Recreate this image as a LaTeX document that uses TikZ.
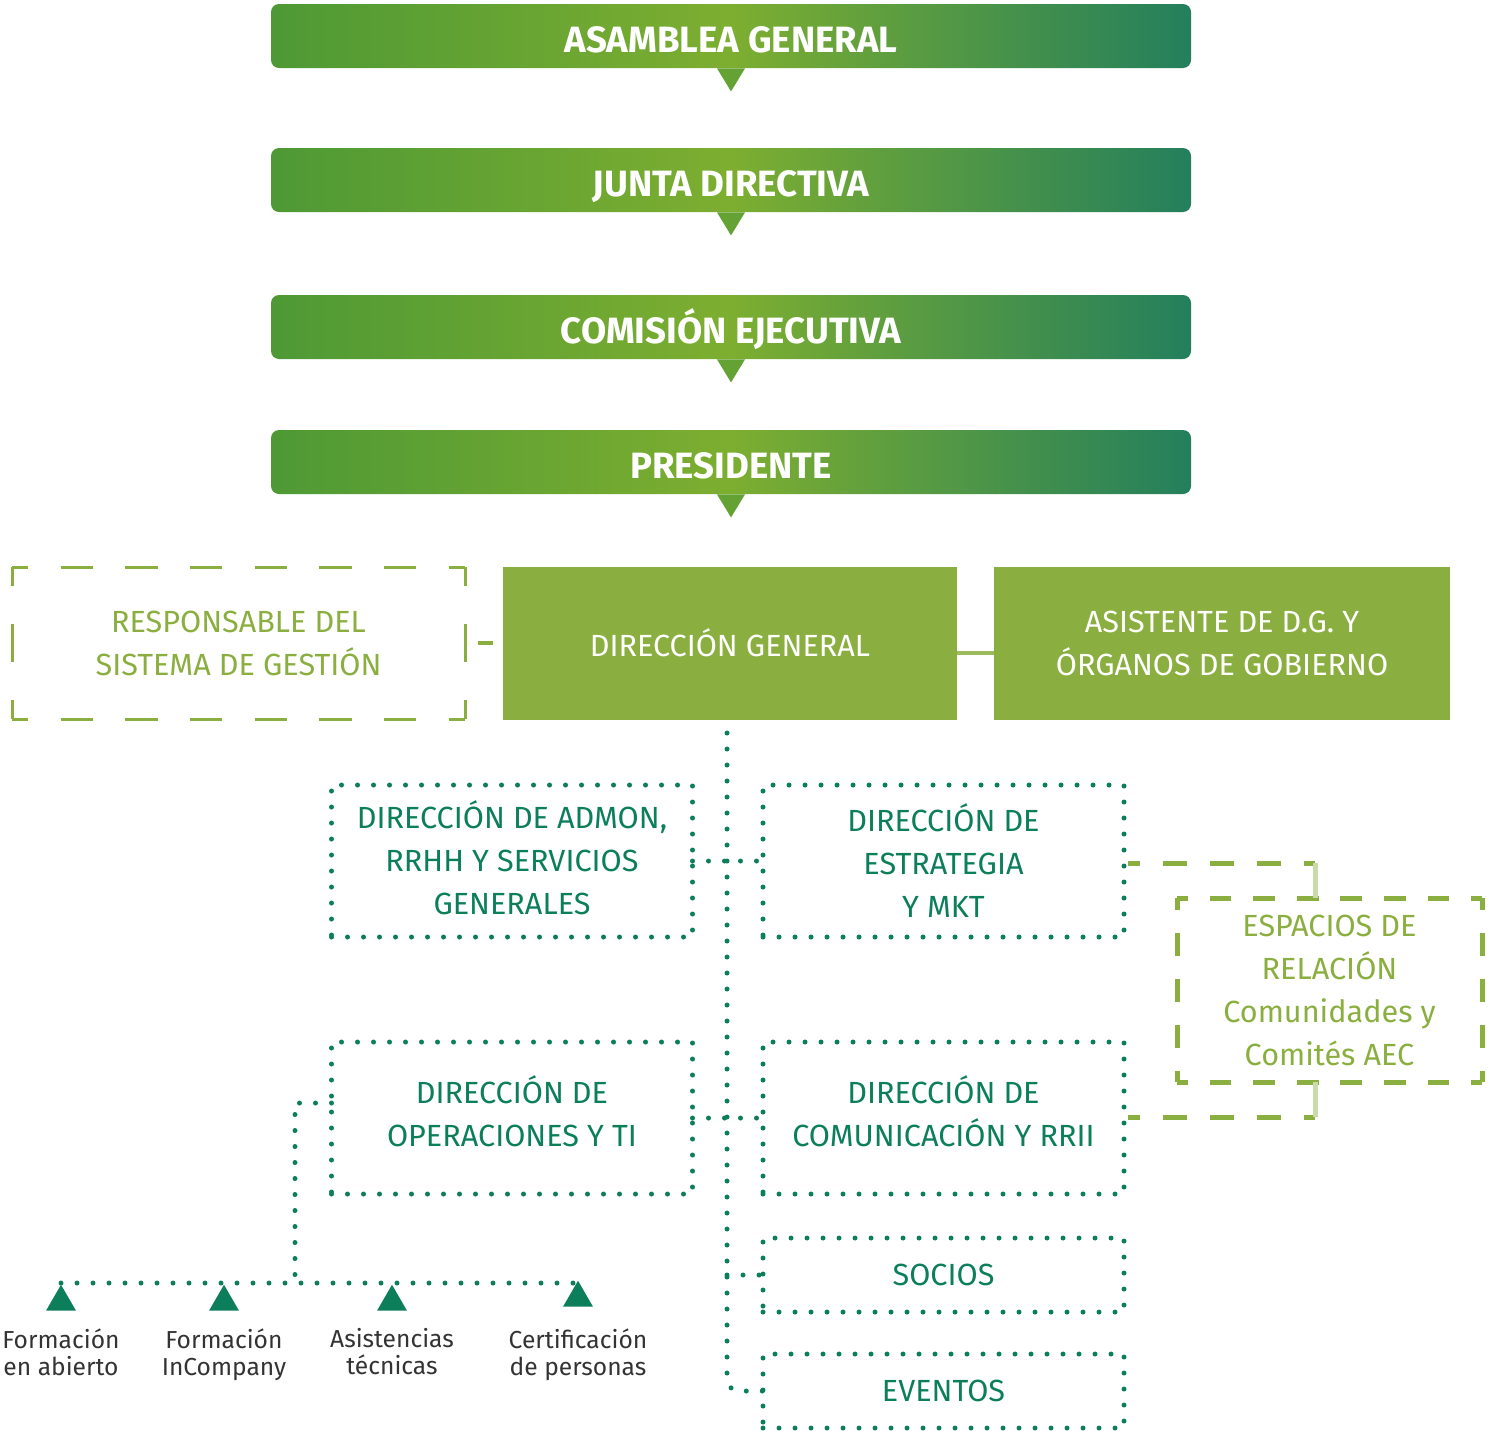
\documentclass[tikz,border=0pt]{standalone}
\usepackage{fontspec}
\setmainfont{Fira Sans}
\usetikzlibrary{positioning,shapes.geometric}

\definecolor{barleft}{HTML}{4E9935}
\definecolor{barmid}{HTML}{7DAE30}
\definecolor{barright}{HTML}{237F5C}
\definecolor{leaf}{HTML}{8AAF40}
\definecolor{pine}{HTML}{0C7F5A}
\definecolor{ink}{HTML}{333333}

\tikzset{
  topbar/.style = {rounded corners=4pt, left color=barleft, right color=barright,
    middle color=barmid, minimum width=460pt, minimum height=32pt, inner sep=0pt,
    text height=16.5pt, text depth=0pt,
    text=white, font=\bfseries\fontsize{18.3}{20}\selectfont},
  barpoint/.style = {fill=barmid!45!barleft},
  leafbox/.style = {fill=leaf, text=white, align=center, inner sep=0pt, outer sep=0pt,
    font=\fontsize{15.3}{21.5}\selectfont},
  hollowbox/.style = {text=leaf, align=center, inner sep=0pt, outer sep=0pt,
    font=\fontsize{15.3}{21.5}\selectfont},
  dotline/.style = {draw=pine, line width=2.5pt, line cap=round, dash pattern=on 0pt off 8pt},
  pinebox/.style = {dotline, text=pine, align=center, inner sep=0pt, outer sep=0pt,
    minimum width=180.5pt, font=\fontsize{15.3}{21.5}\selectfont},
  leafline/.style = {draw=leaf, line width=2pt},
  marker/.style = {regular polygon, regular polygon sides=3, fill=pine, inner sep=0pt,
    minimum size=17.3pt},
  caption/.style = {text=ink, align=center, inner sep=0pt, font=\fontsize{12.3}{13.5}\selectfont}
}

% one side of a dashed frame, dashes fitted to the corners
\newcommand\dashedge[5]{%
  \pgfmathsetmacro\dashn{max(1,round(#4/#5))}%
  \pgfmathsetmacro\dashl{#4/\dashn/4}%
  \pgfmathsetmacro\dashp{\dashl/2}%
  \draw[#1, dash pattern=on \dashl pt off \dashl pt, dash phase=\dashp pt] #2 -- #3;}

\begin{document}
\begin{tikzpicture}[x=0.5pt, y=-0.5pt]
  \useasboundingbox (0,0) rectangle (1491,1432);

  % governing bodies
  \node[topbar] (asamblea) at (731,36) {ASAMBLEA GENERAL};
  \node[topbar] (junta) at (731,180) {JUNTA DIRECTIVA};
  \node[topbar] (comision) at (731,327) {COMISIÓN EJECUTIVA};
  \node[topbar] (presidente) at (731,462) {PRESIDENTE};
  \foreach \bar in {asamblea, junta, comision, presidente}
    \fill[barpoint] ([xshift=-7pt]\bar.south) -- ([xshift=7pt]\bar.south)
      -- ([yshift=-11.5pt]\bar.south) -- cycle;

  % general direction row
  \node[leafbox, minimum width=227pt, minimum height=76.5pt] (dg) at (730,643) {DIRECCIÓN GENERAL};
  \node[leafbox, minimum width=228pt, minimum height=76.5pt] (asist) at (1222,643)
    {ASISTENTE DE D.G. Y\\ÓRGANOS DE GOBIERNO};
  \node[hollowbox, minimum width=226.5pt, minimum height=76pt] (resp) at (238.5,643)
    {RESPONSABLE DEL\\SISTEMA DE GESTIÓN};
  \dashedge{leaf, line width=1.5pt}{(resp.north west)}{(resp.north east)}{453}{64}
  \dashedge{leaf, line width=1.5pt}{(resp.south west)}{(resp.south east)}{453}{64}
  \dashedge{leaf, line width=1.5pt}{(resp.north west)}{(resp.south west)}{152}{64}
  \dashedge{leaf, line width=1.5pt}{(resp.north east)}{(resp.south east)}{152}{64}
  \draw[leafline, shorten <=6.5pt, shorten >=5pt] (resp.east) -- (dg.west);
  \draw[leafline, draw=leaf!85] ([yshift=-5pt]dg.east) -- ([yshift=-5pt]asist.west);

  % directorates
  \node[pinebox, minimum height=76pt, text depth=3pt] (admon) at (512,861)
    {DIRECCIÓN DE ADMON,\\RRHH Y SERVICIOS\\GENERALES};
  \node[pinebox, minimum height=76pt] (estr) at (943.5,861)
    {DIRECCIÓN DE\\ESTRATEGIA\\Y MKT};
  \node[pinebox, minimum height=76pt, text depth=7pt] (oper) at (512,1118)
    {DIRECCIÓN DE\\OPERACIONES Y TI};
  \node[pinebox, minimum height=76pt, text depth=7pt] (comu) at (943.5,1118)
    {DIRECCIÓN DE\\COMUNICACIÓN Y RRII};
  \node[pinebox, minimum height=37pt] (socios) at (943.5,1275) {SOCIOS};
  \node[pinebox, minimum height=37pt] (eventos) at (943.5,1391) {EVENTOS};

  \coordinate (trunk) at (727,733);
  \draw[dotline, rounded corners=6pt] (trunk) |- (eventos.west);
  \draw[dotline] (admon.east) -- (estr.west);
  \draw[dotline] (oper.east) -- (comu.west);
  \draw[dotline] (trunk |- socios.west) -- (socios.west);

  % relation spaces
  \node[hollowbox, minimum width=152.5pt, minimum height=92pt] (espacios) at (1329.5,990)
    {ESPACIOS DE\\RELACIÓN\\Comunidades y\\Comités AEC};
  \dashedge{leaf, line width=2.5pt}{(espacios.north west)}{(espacios.north east)}{305}{44}
  \dashedge{leaf, line width=2.5pt}{(espacios.south west)}{(espacios.south east)}{305}{44}
  \dashedge{leaf, line width=2.5pt}{(espacios.north west)}{(espacios.south west)}{184}{44}
  \dashedge{leaf, line width=2.5pt}{(espacios.north east)}{(espacios.south east)}{184}{44}
  \coordinate (hooktop) at (1315,863);
  \coordinate (hookbot) at (1315,1117);
  \dashedge{leaf, line width=2.5pt}{([xshift=2pt]estr.east |- hooktop)}{(hooktop)}{188}{44}
  \dashedge{leaf, line width=2.5pt}{([xshift=2pt]comu.east |- hookbot)}{(hookbot)}{188}{44}
  \draw[leaf!45, line width=2.5pt] (hooktop) -- (hooktop |- espacios.north);
  \draw[leaf!45, line width=2.5pt] (hookbot) -- (hookbot |- espacios.south);

  % services under operations
  \node[marker] (abierto) at (61,1302) {};
  \node[marker] (incompany) at (224,1302) {};
  \node[marker] (asistencias) at (392,1302) {};
  \node[marker] (certif) at (578,1298) {};
  \node[caption, below=8.5pt of abierto] {Formación\\en abierto};
  \node[caption, below=8.5pt of incompany] {Formación\\InCompany};
  \node[caption, below=8.5pt of asistencias] {Asistencias\\técnicas};
  \node[caption, below=10.5pt of certif] {Certificación\\de personas};
  \coordinate (fork) at (295,1283);
  \draw[dotline] ([yshift=7.5pt]oper.west) -| (fork);
  \draw[dotline] (abierto.north |- fork) -- (certif.north |- fork);
\end{tikzpicture}
\end{document}
